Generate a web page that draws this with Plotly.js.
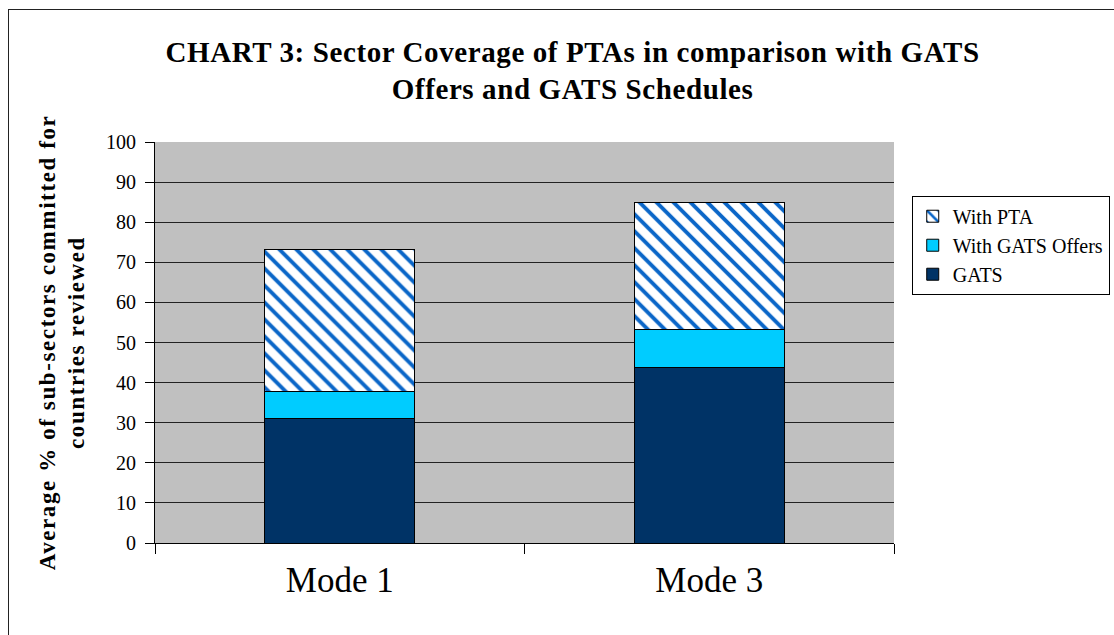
<!DOCTYPE html>
<html>
<head>
<meta charset="utf-8">
<script src="https://cdn.plot.ly/plotly-3.0.1.min.js"></script>
<style>
  html, body { margin: 0; padding: 0; background: #fff; overflow: hidden; }
  #wrap { position: relative; width: 1114px; height: 635px; overflow: hidden; }
  #chart { position: absolute; left: 0; top: 0; width: 1114px; height: 635px; }
  #frame { position: absolute; left: 8px; top: 9px; width: 1200px; height: 700px;
           border-left: 1.5px solid #222; border-top: 1.5px solid #222; pointer-events: none; }
  .g-ytitle text { letter-spacing: 1.6px; }
  .g-gtitle text { letter-spacing: 0.6px; }
</style>
</head>
<body>
<div id="wrap">
  <div id="chart"></div>
  <div id="frame"></div>
</div>
<script>
// ---- data ----
const categories = ["Mode 1", "Mode 3"];
const gatsValues = [31.0, 43.7];          // GATS schedules
const offerValues = [6.9, 9.6];           // additional with GATS offers
const ptaValues = [35.2, 31.5];           // additional with PTA
const seriesNames = ["GATS", "With GATS Offers", "With PTA"];
const yTicks = [0, 10, 20, 30, 40, 50, 60, 70, 80, 90, 100];

const serif = "Liberation Serif, Times New Roman, serif";

const traces = [
  {
    type: "bar", name: seriesNames[0], x: categories, y: gatsValues,
    marker: { color: "#003366", line: { color: "#000", width: 1 } }
  },
  {
    type: "bar", name: seriesNames[1], x: categories, y: offerValues,
    marker: { color: "#00CCFF", line: { color: "#000", width: 1 } }
  },
  {
    type: "bar", name: seriesNames[2], x: categories, y: ptaValues,
    marker: {
      color: "#ffffff",
      line: { color: "#000", width: 1 },
      pattern: { shape: "\\", fgcolor: "#0a66c8", bgcolor: "#ffffff", size: 12, solidity: 0.32, fillmode: "replace" }
    }
  }
];

const layout = {
  width: 1114, height: 635,
  margin: { l: 155, r: 220, t: 142, b: 92, autoexpand: false },
  paper_bgcolor: "#ffffff",
  plot_bgcolor: "#C0C0C0",
  barmode: "stack",
  bargap: 0.594,
  font: { family: serif, color: "#000" },
  showlegend: true,
  title: {
    text: "<b>CHART 3: Sector Coverage of PTAs in comparison with GATS<br>Offers and GATS Schedules</b>",
    font: { family: serif, size: 29, color: "#000" },
    xref: "container", x: 0.514, xanchor: "center",
    yref: "container", y: 0.903, yanchor: "middle"
  },
  xaxis: {
    type: "category",
    tickson: "boundaries",
    ticks: "outside", ticklen: 10, tickcolor: "#000", tickwidth: 1,
    showline: true, linecolor: "#000", linewidth: 1,
    showgrid: false,
    tickfont: { family: serif, size: 35, color: "#000" },
    ticklabelstandoff: 6,
    automargin: false,
    fixedrange: true
  },
  yaxis: {
    range: [0, 100],
    tickvals: yTicks,
    ticktext: yTicks.map(String),
    ticks: "outside", ticklen: 9, tickcolor: "#000", tickwidth: 1,
    showline: true, linecolor: "#000", linewidth: 1,
    showgrid: true, gridcolor: "#222", gridwidth: 1,
    zeroline: false,
    tickfont: { family: serif, size: 20, color: "#000" },
    ticklabelstandoff: 5,
    title: {
      text: "<b>Average % of sub-sectors committed for<br>countries reviewed</b>",
      font: { family: serif, size: 23, color: "#000" },
      standoff: 14
    },
    automargin: false,
    fixedrange: true
  },
  legend: {
    x: 1.024, xanchor: "left",
    y: 0.866, yanchor: "top",
    bgcolor: "#ffffff",
    bordercolor: "#000", borderwidth: 1,
    font: { family: serif, size: 20, color: "#000" },
    traceorder: "reversed",
    tracegroupgap: 0,
    itemwidth: 30
  }
};

Plotly.newPlot("chart", traces, layout, { displayModeBar: false, staticPlot: true });
</script>
</body>
</html>
